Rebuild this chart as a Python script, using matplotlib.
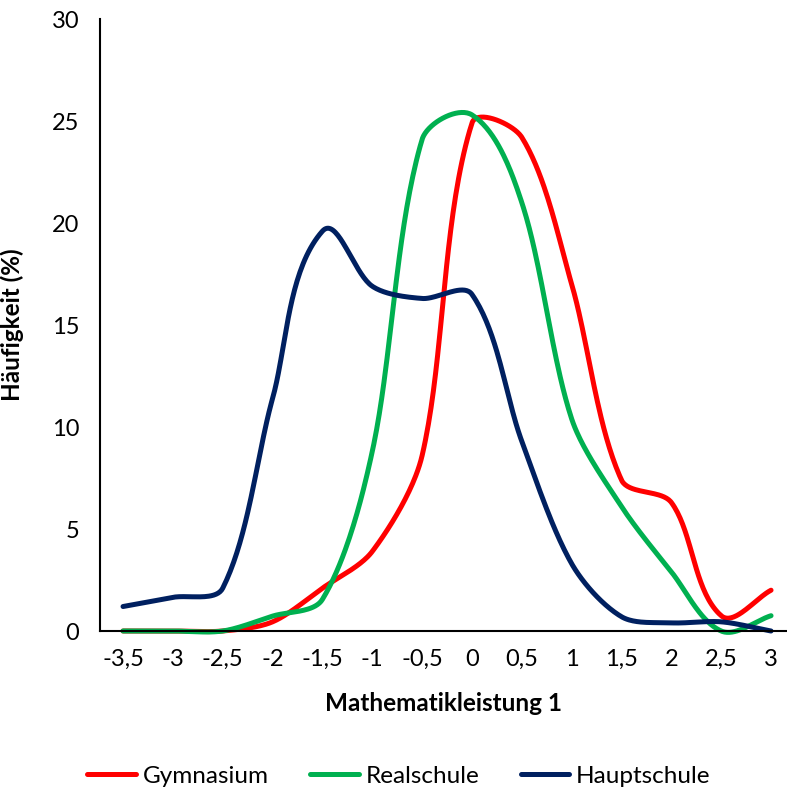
import numpy as np
import matplotlib
matplotlib.use("Agg")
import matplotlib.pyplot as plt

# Data
x_values = [-3.5, -3, -2.5, -2, -1.5, -1, -0.5, 0, 0.5, 1, 1.5, 2, 2.5, 3]
x_labels = ["-3,5", "-3", "-2,5", "-2", "-1,5", "-1", "-0,5", "0", "0,5", "1", "1,5", "2", "2,5", "3"]
gymnasium = [0, 0, 0, 0.45, 2.1, 3.9, 8.6, 24.9, 24.2, 17.0, 7.4, 6.3, 0.75, 2.0]
realschule = [0, 0, 0, 0.73, 1.55, 8.8, 24.1, 25.3, 21.0, 10.4, 6.1, 2.9, 0, 0.75]
hauptschule = [1.2, 1.65, 2.1, 11.4, 19.6, 16.9, 16.3, 16.5, 9.3, 3.3, 0.7, 0.4, 0.45, 0.0]

series = [
    ("Gymnasium", gymnasium, "#FF0000"),
    ("Realschule", realschule, "#00B050"),
    ("Hauptschule", hauptschule, "#002060"),
]

# pixel size of one data unit, used so smoothing behaves like on screen
SX, SY = 99.7, 20.4


def smooth(xs, ys, n=40, k=0.3):
    # smoothed line, tangent from neighbours, control arm scaled by segment length
    P = np.column_stack([np.asarray(xs, float) * SX, np.asarray(ys, float) * SY])
    m = len(P)
    D = np.zeros_like(P)
    for i in range(m):
        a = P[max(i - 1, 0)]
        b = P[min(i + 1, m - 1)]
        d = b - a
        D[i] = d / np.hypot(*d)
    t = np.linspace(0, 1, n)[:, None]
    out = []
    for i in range(m - 1):
        p0, p3 = P[i], P[i + 1]
        L = np.hypot(*(p3 - p0))
        c1 = p0 + D[i] * L * k
        c2 = p3 - D[i + 1] * L * k
        pts = (1 - t) ** 3 * p0 + 3 * (1 - t) ** 2 * t * c1 + 3 * (1 - t) * t ** 2 * c2 + t ** 3 * p3
        out.append(pts)
    out = np.vstack(out)
    return out[:, 0] / SX, out[:, 1] / SY


plt.rcParams['font.family'] = ['Lato', 'DejaVu Sans']

fig = plt.figure(figsize=(7.87, 7.93), dpi=100)
ax = fig.add_axes([100 / 787, 1 - 631 / 793, 687 / 787, 612 / 793])

for name, vals, col in series:
    sx, sy = smooth(x_values, vals)
    ax.plot(sx, sy, color=col, lw=3.6, solid_capstyle='round', label=name, clip_on=False)

ax.set_xlim(-3.731, 3.16)
ax.set_ylim(0, 30)
ax.set_xticks(x_values)
ax.set_xticklabels(x_labels)
ax.set_yticks([0, 5, 10, 15, 20, 25, 30])
ax.tick_params(axis='both', length=0, labelsize=17)
ax.tick_params(axis='y', pad=15)
ax.tick_params(axis='x', pad=13)

for s in ['top', 'right']:
    ax.spines[s].set_visible(False)
ax.spines['left'].set_linewidth(1.5)
ax.spines['bottom'].set_linewidth(1.5)

ax.set_ylabel("Häufigkeit (%)", fontsize=17.5, fontweight='bold')
ax.yaxis.set_label_coords(-0.111, 0.5)
ax.set_xlabel("Mathematikleistung 1", fontsize=17.5, fontweight='bold', labelpad=16)

fig.legend(loc='center', bbox_to_anchor=(0.507, 1 - 776 / 793), ncol=3, frameon=False,
           fontsize=17.5, handlelength=2.0, handletextpad=0.28, columnspacing=1.7)

fig.savefig("out.png", dpi=100)
